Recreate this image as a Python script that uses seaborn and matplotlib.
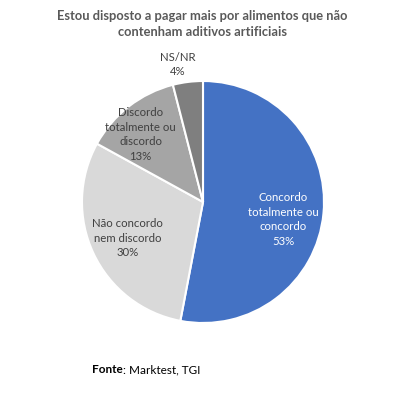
import numpy as np
import matplotlib
matplotlib.use("Agg")
import matplotlib.pyplot as plt
import seaborn as sns

# data
labels = ["Concordo\ntotalmente ou\nconcordo", "Não concordo\nnem discordo",
          "Discordo\ntotalmente ou\ndiscordo", "NS/NR"]
values = [53, 30, 13, 4]
colors = ["#4472C4", "#D9D9D9", "#A5A5A5", "#7F7F7F"]
text_colors = ["white", "#404040", "#404040", "#404040"]
title = "Estou disposto a pagar mais por alimentos que não\ncontenham aditivos artificiais"

sns.set_theme(style="white")
plt.rcParams['font.family'] = ['Lato', 'DejaVu Sans']

W, H = 405, 393
fig = plt.figure(figsize=(W / 100, H / 100), dpi=100)
cx, cy, r = 203, 202, 121
ax = fig.add_axes([(cx - r) / W, (H - cy - r) / H, 2 * r / W, 2 * r / H])

wedges, _ = ax.pie(values, colors=colors, startangle=90, counterclock=False,
                   radius=1, wedgeprops=dict(edgecolor="white", linewidth=1.5))
ax.set_xlim(-1, 1)
ax.set_ylim(-1, 1)
ax.axis("off")

# label placement (distance, angle offset)
dist = [0.68, 0.69, 0.76, 1.155]
shift = [-7, 0.4, 5, 3.3]
for w, lab, v, d, s, tc in zip(wedges, labels, values, dist, shift, text_colors):
    ang = np.deg2rad((w.theta1 + w.theta2) / 2 + s)
    ax.text(d * np.cos(ang), d * np.sin(ang), f"{lab}\n{v}%", ha="center", va="center",
            fontsize=8.2, color=tc, linespacing=1.4)

fig.text(0.5, 1 - 24 / H, title, ha="center", va="center", fontsize=9.3,
         fontweight="bold", color="#595959", linespacing=1.4)

# source line: bold "Fonte" followed by normal text
fonte = fig.text(92 / W, 1 - 373 / H, "Fonte", ha="left", va="baseline", fontsize=8.5,
                 fontweight="bold", color="black")
rest = fig.text(0, 1 - 373 / H, ": Marktest, TGI", ha="left", va="baseline",
                fontsize=8.5, color="black")
fig.canvas.draw()
bb = fonte.get_window_extent()
rest.set_x(bb.x1 / W)

fig.savefig("out.png", dpi=100, facecolor="white")
